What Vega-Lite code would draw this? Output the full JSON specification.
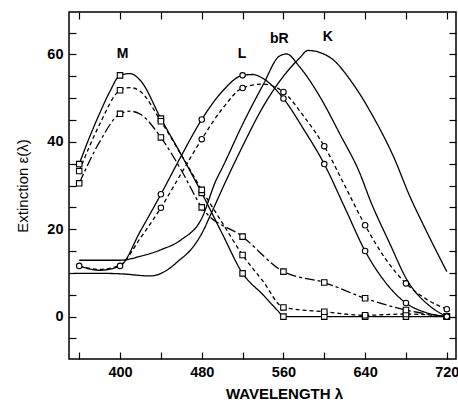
{
 "$schema": "https://vega.github.io/schema/vega-lite/v6.json",
 "width": 387, "height": 347,
 "autosize": {"type": "none"},
 "padding": {"left": 69, "top": 12, "right": 2, "bottom": 41},
 "background": "white",
 "config": {
  "view": {"stroke": "black", "strokeWidth": 1.5},
  "axis": {"domain": false, "grid": false, "tickSize": -7, "tickColor": "black", "tickWidth": 1.2,
   "labelFont": "Liberation Sans", "labelFontSize": 14.5, "labelColor": "black", "labelFontWeight": "bold",
   "titleFont": "Liberation Sans", "titleFontSize": 15, "titleFontWeight": "bold", "titleColor": "black",
   "labelOverlap": false, "labelFlush": false}
 },
 "datasets": {
  "curves": [
   {"s": "M", "lambda": 360, "value": 34.9, "m": 1},
   {"s": "M", "lambda": 370, "value": 41.0, "m": 0},
   {"s": "M", "lambda": 380, "value": 46.5, "m": 0},
   {"s": "M", "lambda": 390, "value": 51.5, "m": 0},
   {"s": "M", "lambda": 400, "value": 55.2, "m": 1},
   {"s": "M", "lambda": 410, "value": 55.6, "m": 0},
   {"s": "M", "lambda": 420, "value": 54.0, "m": 0},
   {"s": "M", "lambda": 440, "value": 45.3, "m": 1},
   {"s": "M", "lambda": 460, "value": 37.0, "m": 0},
   {"s": "M", "lambda": 480, "value": 28.3, "m": 1},
   {"s": "M", "lambda": 500, "value": 19.0, "m": 0},
   {"s": "M", "lambda": 520, "value": 9.9, "m": 1},
   {"s": "M", "lambda": 540, "value": 5.0, "m": 0},
   {"s": "M", "lambda": 555, "value": 1.2, "m": 0},
   {"s": "M", "lambda": 560, "value": 0, "m": 1},
   {"s": "M", "lambda": 600, "value": 0, "m": 1},
   {"s": "M", "lambda": 640, "value": 0, "m": 1},
   {"s": "M", "lambda": 680, "value": 0, "m": 1},
   {"s": "M", "lambda": 720, "value": 0, "m": 1},

   {"s": "Md", "lambda": 360, "value": 33.3, "m": 1},
   {"s": "Md", "lambda": 380, "value": 44.0, "m": 0},
   {"s": "Md", "lambda": 400, "value": 51.8, "m": 1},
   {"s": "Md", "lambda": 410, "value": 52.4, "m": 0},
   {"s": "Md", "lambda": 420, "value": 51.5, "m": 0},
   {"s": "Md", "lambda": 440, "value": 44.7, "m": 1},
   {"s": "Md", "lambda": 460, "value": 37.0, "m": 0},
   {"s": "Md", "lambda": 480, "value": 29.0, "m": 1},
   {"s": "Md", "lambda": 500, "value": 21.5, "m": 0},
   {"s": "Md", "lambda": 520, "value": 14.1, "m": 1},
   {"s": "Md", "lambda": 540, "value": 8.1, "m": 0},
   {"s": "Md", "lambda": 560, "value": 2.1, "m": 1},
   {"s": "Md", "lambda": 600, "value": 1.1, "m": 1},
   {"s": "Md", "lambda": 640, "value": 0.3, "m": 1},
   {"s": "Md", "lambda": 680, "value": 0.6, "m": 1},
   {"s": "Md", "lambda": 720, "value": 0.0, "m": 1},

   {"s": "Mdd", "lambda": 360, "value": 30.5, "m": 1},
   {"s": "Mdd", "lambda": 380, "value": 40.0, "m": 0},
   {"s": "Mdd", "lambda": 400, "value": 46.4, "m": 1},
   {"s": "Mdd", "lambda": 410, "value": 47.0, "m": 0},
   {"s": "Mdd", "lambda": 420, "value": 46.3, "m": 0},
   {"s": "Mdd", "lambda": 440, "value": 41.0, "m": 1},
   {"s": "Mdd", "lambda": 460, "value": 33.5, "m": 0},
   {"s": "Mdd", "lambda": 480, "value": 25.0, "m": 1},
   {"s": "Mdd", "lambda": 520, "value": 18.3, "m": 1},
   {"s": "Mdd", "lambda": 560, "value": 10.3, "m": 1},
   {"s": "Mdd", "lambda": 600, "value": 7.8, "m": 1},
   {"s": "Mdd", "lambda": 640, "value": 4.2, "m": 1},
   {"s": "Mdd", "lambda": 680, "value": 1.5, "m": 1},
   {"s": "Mdd", "lambda": 720, "value": 0.0, "m": 1},

   {"s": "L", "lambda": 360, "value": 11.6, "m": 1},
   {"s": "L", "lambda": 380, "value": 10.6, "m": 0},
   {"s": "L", "lambda": 400, "value": 11.6, "m": 1},
   {"s": "L", "lambda": 420, "value": 19.6, "m": 0},
   {"s": "L", "lambda": 440, "value": 28.0, "m": 1},
   {"s": "L", "lambda": 460, "value": 36.8, "m": 0},
   {"s": "L", "lambda": 480, "value": 45.1, "m": 1},
   {"s": "L", "lambda": 500, "value": 51.5, "m": 0},
   {"s": "L", "lambda": 520, "value": 55.2, "m": 1},
   {"s": "L", "lambda": 530, "value": 55.4, "m": 0},
   {"s": "L", "lambda": 540, "value": 54.5, "m": 0},
   {"s": "L", "lambda": 560, "value": 49.9, "m": 1},
   {"s": "L", "lambda": 580, "value": 42.8, "m": 0},
   {"s": "L", "lambda": 600, "value": 34.9, "m": 1},
   {"s": "L", "lambda": 620, "value": 25.0, "m": 0},
   {"s": "L", "lambda": 640, "value": 15.0, "m": 1},
   {"s": "L", "lambda": 660, "value": 7.8, "m": 0},
   {"s": "L", "lambda": 680, "value": 3.1, "m": 1},
   {"s": "L", "lambda": 700, "value": 0.9, "m": 0},
   {"s": "L", "lambda": 720, "value": 0, "m": 1},

   {"s": "Ld", "lambda": 360, "value": 11.6, "m": 0},
   {"s": "Ld", "lambda": 380, "value": 10.8, "m": 0},
   {"s": "Ld", "lambda": 400, "value": 11.8, "m": 0},
   {"s": "Ld", "lambda": 420, "value": 18.0, "m": 0},
   {"s": "Ld", "lambda": 440, "value": 24.9, "m": 1},
   {"s": "Ld", "lambda": 460, "value": 32.8, "m": 0},
   {"s": "Ld", "lambda": 480, "value": 40.6, "m": 1},
   {"s": "Ld", "lambda": 500, "value": 47.5, "m": 0},
   {"s": "Ld", "lambda": 520, "value": 52.3, "m": 1},
   {"s": "Ld", "lambda": 540, "value": 53.2, "m": 0},
   {"s": "Ld", "lambda": 560, "value": 51.4, "m": 1},
   {"s": "Ld", "lambda": 580, "value": 45.8, "m": 0},
   {"s": "Ld", "lambda": 600, "value": 39.0, "m": 1},
   {"s": "Ld", "lambda": 620, "value": 30.0, "m": 0},
   {"s": "Ld", "lambda": 640, "value": 20.9, "m": 1},
   {"s": "Ld", "lambda": 660, "value": 13.2, "m": 0},
   {"s": "Ld", "lambda": 680, "value": 7.6, "m": 1},
   {"s": "Ld", "lambda": 700, "value": 4.0, "m": 0},
   {"s": "Ld", "lambda": 720, "value": 1.7, "m": 1},

   {"s": "bR", "lambda": 360, "value": 12.9, "m": 0},
   {"s": "bR", "lambda": 380, "value": 12.9, "m": 0},
   {"s": "bR", "lambda": 400, "value": 12.9, "m": 0},
   {"s": "bR", "lambda": 420, "value": 13.8, "m": 0},
   {"s": "bR", "lambda": 440, "value": 15.3, "m": 0},
   {"s": "bR", "lambda": 460, "value": 17.6, "m": 0},
   {"s": "bR", "lambda": 480, "value": 22.5, "m": 0},
   {"s": "bR", "lambda": 494, "value": 31.2, "m": 0},
   {"s": "bR", "lambda": 500, "value": 34.0, "m": 0},
   {"s": "bR", "lambda": 520, "value": 44.0, "m": 0},
   {"s": "bR", "lambda": 540, "value": 53.0, "m": 0},
   {"s": "bR", "lambda": 556, "value": 59.6, "m": 0},
   {"s": "bR", "lambda": 563, "value": 60.1, "m": 0},
   {"s": "bR", "lambda": 576, "value": 57.1, "m": 0},
   {"s": "bR", "lambda": 596, "value": 50.2, "m": 0},
   {"s": "bR", "lambda": 615, "value": 41.9, "m": 0},
   {"s": "bR", "lambda": 635, "value": 32.7, "m": 0},
   {"s": "bR", "lambda": 645, "value": 26.6, "m": 0},
   {"s": "bR", "lambda": 664, "value": 16.8, "m": 0},
   {"s": "bR", "lambda": 681, "value": 8.4, "m": 0},
   {"s": "bR", "lambda": 704, "value": 2.3, "m": 0},
   {"s": "bR", "lambda": 720, "value": 0, "m": 0},

   {"s": "K", "lambda": 355, "value": 9.9, "m": 0},
   {"s": "K", "lambda": 380, "value": 9.9, "m": 0},
   {"s": "K", "lambda": 400, "value": 9.8, "m": 0},
   {"s": "K", "lambda": 430, "value": 9.3, "m": 0},
   {"s": "K", "lambda": 445, "value": 10.5, "m": 0},
   {"s": "K", "lambda": 458, "value": 12.9, "m": 0},
   {"s": "K", "lambda": 470, "value": 15.5, "m": 0},
   {"s": "K", "lambda": 480, "value": 19.0, "m": 0},
   {"s": "K", "lambda": 490, "value": 24.0, "m": 0},
   {"s": "K", "lambda": 504, "value": 31.2, "m": 0},
   {"s": "K", "lambda": 520, "value": 39.0, "m": 0},
   {"s": "K", "lambda": 540, "value": 48.0, "m": 0},
   {"s": "K", "lambda": 560, "value": 55.0, "m": 0},
   {"s": "K", "lambda": 576, "value": 59.2, "m": 0},
   {"s": "K", "lambda": 584, "value": 60.9, "m": 0},
   {"s": "K", "lambda": 605, "value": 59.4, "m": 0},
   {"s": "K", "lambda": 628, "value": 53.3, "m": 0},
   {"s": "K", "lambda": 648, "value": 45.7, "m": 0},
   {"s": "K", "lambda": 668, "value": 36.5, "m": 0},
   {"s": "K", "lambda": 684, "value": 27.4, "m": 0},
   {"s": "K", "lambda": 697, "value": 21.0, "m": 0},
   {"s": "K", "lambda": 720, "value": 10.3, "m": 0}
  ],
  "labels": [
   {"t": "M", "lambda": 402.5, "value": 60.0},
   {"t": "L", "lambda": 519.5, "value": 60.0},
   {"t": "bR", "lambda": 556, "value": 63.6},
   {"t": "K", "lambda": 603.5, "value": 64.0}
  ]
 },
 "layer": [
  {
   "data": {"name": "curves"},
   "mark": {"type": "line", "interpolate": "monotone", "color": "black", "strokeWidth": 1.3},
   "encoding": {
    "x": {"field": "lambda", "type": "quantitative",
     "scale": {"domain": [350, 729], "nice": false, "zero": false},
     "axis": {"values": [360, 400, 440, 480, 520, 560, 600, 640, 680, 720],
      "labelExpr": "datum.value % 80 === 0 ? datum.label : ''",
      "labelPadding": 13, "title": "WAVELENGTH λ", "titleX": 215, "titleY": 39,
      "titleAlign": "center", "titleBaseline": "alphabetic"}},
    "y": {"field": "value", "type": "quantitative",
     "scale": {"domain": [-9.7, 69.7], "nice": false, "zero": false},
     "axis": {"values": [-5, 0, 5, 10, 15, 20, 25, 30, 35, 40, 45, 50, 55, 60, 65],
      "labelExpr": "datum.value % 20 === 0 ? datum.label : ''",
      "labelPadding": 13, "title": "Extinction ε(λ)", "titleX": -46.6, "titleY": 173.5,
      "titleAlign": "center", "titleBaseline": "middle", "titleAngle": -90, "titleFontWeight": "normal"}},
    "detail": {"field": "s", "type": "nominal"},
    "strokeDash": {"field": "s", "type": "nominal",
     "scale": {"domain": ["M", "Md", "Mdd", "L", "Ld", "bR", "K"],
      "range": [[1, 0], [4, 3], [10, 3, 3, 3], [1, 0], [4, 3], [1, 0], [1, 0]]},
     "legend": null}
   }
  },
  {
   "data": {"name": "curves"},
   "transform": [{"filter": "datum.m === 1"}],
   "mark": {"type": "point", "filled": true, "fill": "white", "stroke": "black", "strokeWidth": 1.1, "size": 30, "opacity": 1},
   "encoding": {
    "x": {"field": "lambda", "type": "quantitative",
     "scale": {"domain": [350, 729], "nice": false, "zero": false},
     "axis": {"orient": "top", "values": [360, 400, 440, 480, 520, 560, 600, 640, 680, 720], "labels": false, "title": null}},
    "y": {"field": "value", "type": "quantitative",
     "scale": {"domain": [-9.7, 69.7], "nice": false, "zero": false},
     "axis": {"orient": "right", "values": [-5, 0, 5, 10, 15, 20, 25, 30, 35, 40, 45, 50, 55, 60, 65], "labels": false, "title": null}},
    "shape": {"field": "s", "type": "nominal",
     "scale": {"domain": ["M", "Md", "Mdd", "L", "Ld"], "range": ["square", "square", "square", "circle", "circle"]},
     "legend": null}
   }
  },
  {
   "data": {"name": "labels"},
   "mark": {"type": "text", "font": "Liberation Sans", "fontSize": 14, "fontWeight": "bold", "align": "center", "baseline": "middle", "color": "black"},
   "encoding": {
    "x": {"field": "lambda", "type": "quantitative", "axis": null},
    "y": {"field": "value", "type": "quantitative", "axis": null},
    "text": {"field": "t", "type": "nominal"}
   }
  }
 ],
 "resolve": {"axis": {"x": "independent", "y": "independent"}}
}
